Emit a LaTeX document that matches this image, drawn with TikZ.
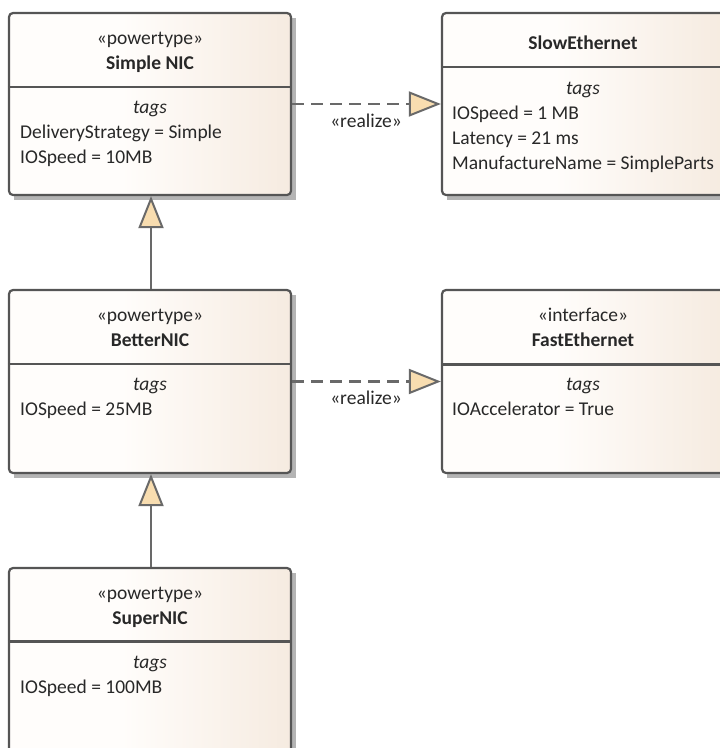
\documentclass[tikz,border=0pt]{standalone}
\usepackage{fontspec}
\setmainfont{Carlito}
\usetikzlibrary{arrows.meta}
\definecolor{boxleft}{RGB}{255,253,251}
\definecolor{boxright}{RGB}{238,220,202}
\definecolor{boxline}{RGB}{85,85,85}
\definecolor{txt}{RGB}{40,40,40}
\definecolor{tipfill}{RGB}{248,221,176}
\definecolor{conn}{RGB}{105,105,105}
\definecolor{shadowc}{RGB}{180,180,180}
\pgfdeclarehorizontalshading{boxshade}{100bp}{color(0bp)=(boxleft); color(45bp)=(boxleft); color(100bp)=(boxright)}
\tikzset{
  umlbox/.style={draw=boxline, line width=2.2pt, rounded corners=4pt, shading=boxshade, inner sep=0pt},
  boxshadow/.style={fill=shadowc, draw=none},
  divider/.style={draw=boxline, line width=2.2pt},
  lbl/.style={text=txt, font=\fontsize{19.5}{23}\selectfont, inner sep=0pt, anchor=base},
  lbll/.style={lbl, anchor=base west},
  namelbl/.style={lbl, font=\fontsize{19.5}{23}\selectfont\bfseries},
  taglbl/.style={lbl, font=\fontsize{19.5}{23}\selectfont\itshape},
  gen/.style={draw=conn, line width=2.2pt, -{Triangle[width=25pt,length=32pt,fill=tipfill,line width=2pt]}},
  real/.style={draw=conn, line width=2.2pt, dash pattern=on 12pt off 7pt, -{Triangle[width=25pt,length=32pt,fill=tipfill,line width=2pt]}},
}
\begin{document}
\begin{tikzpicture}[x=1pt,y=-1pt]
\useasboundingbox (0,0) rectangle (720,748);
\clip (0,0) rectangle (720,748);
% shadows
\fill[boxshadow] (14,18) rectangle (296,200);
\fill[boxshadow] (447,18) rectangle (729,200);
\fill[boxshadow] (14,295) rectangle (296,478);
\fill[boxshadow] (447,295) rectangle (729,478);
\fill[boxshadow] (14,573) rectangle (296,760);
% boxes
\node[umlbox, minimum width=282pt, minimum height=182pt] (simple) at (150,104) {};
\node[umlbox, minimum width=282pt, minimum height=182pt] (slow) at (583,104) {};
\node[umlbox, minimum width=282pt, minimum height=183pt] (better) at (150,381.5) {};
\node[umlbox, minimum width=282pt, minimum height=183pt] (fast) at (583,381.5) {};
\node[umlbox, minimum width=282pt, minimum height=190pt] (super) at (150,663) {};
% dividers
\draw[divider] (simple.west |- 0,87) -- (simple.east |- 0,87);
\draw[divider] (slow.west |- 0,67) -- (slow.east |- 0,67);
\draw[divider] (better.west |- 0,364) -- (better.east |- 0,364);
\draw[divider] (fast.west |- 0,364.5) -- (fast.east |- 0,364.5);
\draw[divider] (super.west |- 0,641.5) -- (super.east |- 0,641.5);
% Simple NIC
\node[lbl] (s1) at (150,44) {«powertype»};
\node[namelbl] (s2) at (150,69) {Simple NIC};
\node[taglbl] (s3) at (150,113) {tags};
\node[lbll] (s4) at (20,138) {DeliveryStrategy = Simple};
\node[lbll] (s5) at (20,163) {IOSpeed = 10MB};
% SlowEthernet
\node[namelbl] (w2) at (583,49) {SlowEthernet};
\node[taglbl] (w3) at (583,94) {tags};
\node[lbll] (w4) at (452,119) {IOSpeed = 1 MB};
\node[lbll] (w5) at (452,144) {Latency = 21 ms};
\node[lbll] (w6) at (452,169) {ManufactureName = SimpleParts};
% BetterNIC
\node[lbl] (b1) at (150,321) {«powertype»};
\node[namelbl] (b2) at (150,346) {BetterNIC};
\node[taglbl] (b3) at (150,390) {tags};
\node[lbll] (b4) at (20,415) {IOSpeed = 25MB};
% FastEthernet
\node[lbl] (f1) at (583,321) {«interface»};
\node[namelbl] (f2) at (583,346) {FastEthernet};
\node[taglbl] (f3) at (583,390) {tags};
\node[lbll] (f4) at (452,415) {IOAccelerator = True};
% SuperNIC
\node[lbl] (p1) at (150,599) {«powertype»};
\node[namelbl] (p2) at (150,624) {SuperNIC};
\node[taglbl] (p3) at (150,668) {tags};
\node[lbll] (p4) at (20,693) {IOSpeed = 100MB};
% connectors
\draw[gen] (better.north -| 151,0) -- (simple.south -| 151,0);
\draw[gen] (super.north -| 151,0) -- (better.south -| 151,0);
\draw[real] (simple.east) -- (slow.west);
\draw[real] (better.east) -- (fast.west);
\node[lbl] (r1) at (366,127) {«realize»};
\node[lbl] (r2) at (366,404) {«realize»};
\end{tikzpicture}
\end{document}
